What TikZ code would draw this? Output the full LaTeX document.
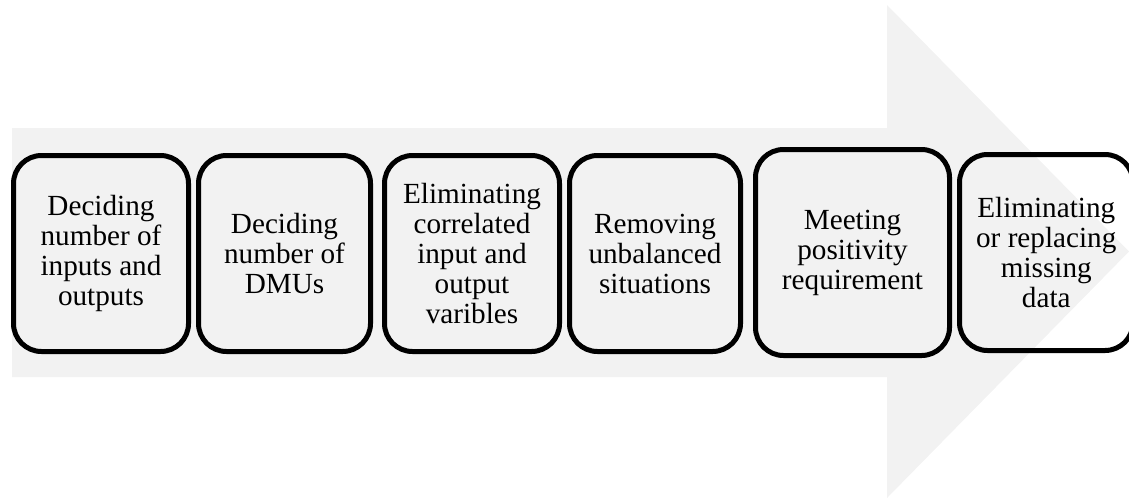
\documentclass[tikz,border=0pt]{standalone}
\usepackage{fontspec}
\setmainfont{Liberation Serif}
\definecolor{arrowgray}{HTML}{F2F2F2}
\tikzset{
  stepbox/.style={draw=black, line width=5pt, rounded corners=28pt,
    inner sep=0pt, align=center,
    font=\fontsize{29.2}{30}\selectfont}
}
\begin{document}
\begin{tikzpicture}[x=1pt,y=-1pt]
\useasboundingbox (0,0) rectangle (1129,499);
% wide background arrow
\fill[arrowgray] (12,128) -- (887,128) -- (887,5) -- (1129,251.5)
  -- (887,498) -- (887,377) -- (12,377) -- cycle;
% process steps
\node[stepbox, minimum width=175pt, minimum height=196pt] (s1) at (101,253.5)
  {Deciding\\number of\\inputs and\\outputs};
\node[stepbox, minimum width=172pt, minimum height=196pt] (s2) at (284.5,253.5)
  {Deciding\\number of\\DMUs};
\node[stepbox, minimum width=175pt, minimum height=196pt] (s3) at (472,253.5)
  {Eliminating\\correlated\\input and\\output\\varibles};
\node[stepbox, minimum width=171pt, minimum height=196pt] (s4) at (655,253.5)
  {Removing\\unbalanced\\situations};
\node[stepbox, minimum width=194pt, minimum height=206pt] (s5) at (852.5,252.5)
  {Meeting\\positivity\\requirement};
\node[stepbox, minimum width=173.5pt, minimum height=196pt] (s6) at (1046.25,252.5)
  {Eliminating\\or replacing\\missing\\data};
\end{tikzpicture}
\end{document}
